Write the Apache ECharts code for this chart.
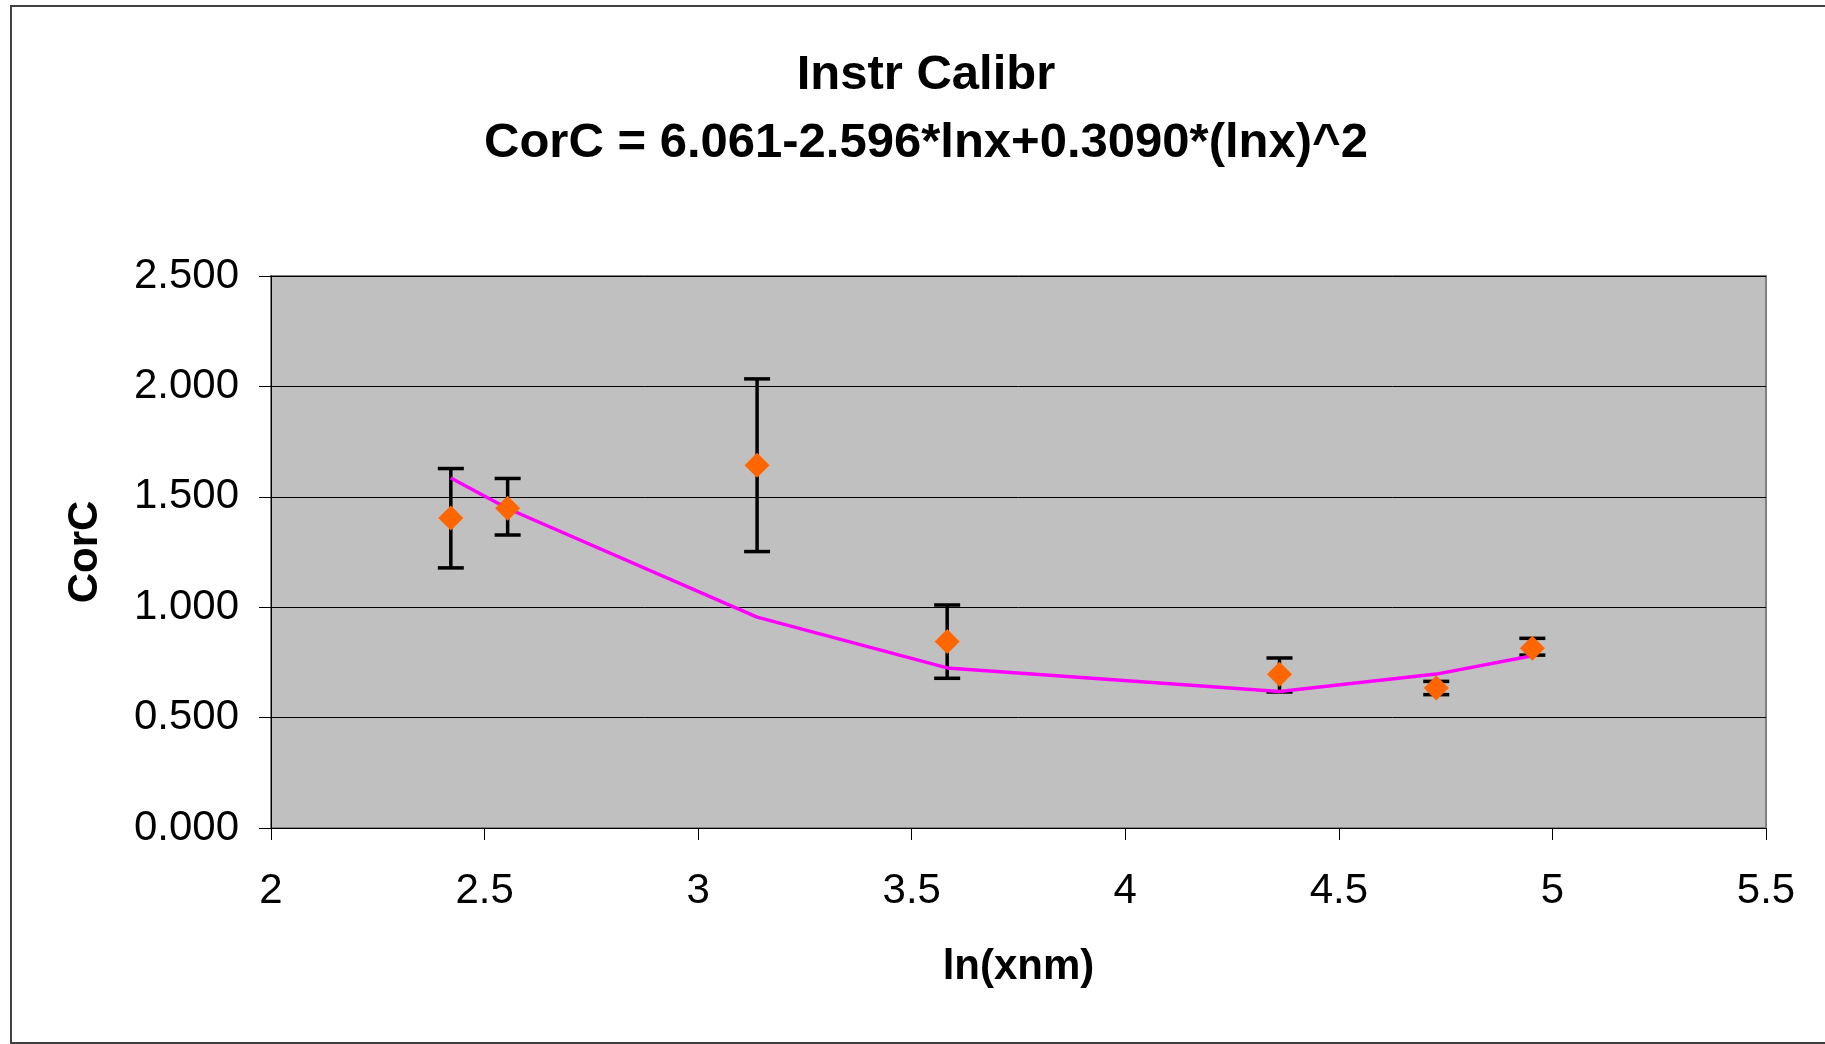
<!DOCTYPE html>
<html>
<head>
<meta charset="utf-8">
<script src="https://cdn.jsdelivr.net/npm/echarts@6/dist/echarts.min.js"></script>
<style>
html,body{margin:0;padding:0;background:#fff;}
#chart{width:1825px;height:1044px;}
</style>
</head>
<body>
<div id="chart"></div>
<script>
// Data
const lnX     = [2.421, 2.554, 3.138, 3.583, 4.361, 4.728, 4.953];
const corC    = [1.404, 1.448, 1.643, 0.845, 0.696, 0.634, 0.814];
const errHigh = [1.628, 1.583, 2.034, 1.010, 0.770, 0.664, 0.859];
const errLow  = [1.178, 1.327, 1.252, 0.678, 0.616, 0.604, 0.783];
const fitY    = [1.585, 1.447, 0.955, 0.725, 0.618, 0.697, 0.780];
const titleLines = ['Instr Calibr', 'CorC = 6.061-2.596*lnx+0.3090*(lnx)^2'];
const xTitle = 'ln(xnm)';
const yTitle = 'CorC';

const FONT = 'Liberation Sans, Arial, sans-serif';
const chart = echarts.init(document.getElementById('chart'));

const pts = lnX.map((x, i) => [x, corC[i]]);
const errs = lnX.map((x, i) => [x, errHigh[i], errLow[i]]);
const fit = lnX.map((x, i) => [x, fitY[i]]);

chart.setOption({
  backgroundColor: '#ffffff',
  animation: false,
  graphic: [
    { type: 'rect', shape: { x: 11, y: 6, width: 1830, height: 1037 },
      style: { fill: 'none', stroke: '#404040', lineWidth: 2 }, silent: true },
    { type: 'text', x: 926, y: 51, style: { text: titleLines[0], textAlign: 'center', textVerticalAlign: 'top',
      font: 'bold 49px ' + FONT, fill: '#000' } },
    { type: 'text', x: 926, y: 119, style: { text: titleLines[1], textAlign: 'center', textVerticalAlign: 'top',
      font: 'bold 49px ' + FONT, fill: '#000' } }
  ],
  grid: {
    left: 271, top: 276, width: 1495, height: 552,
    show: true, backgroundColor: '#C0C0C0', borderColor: '#808080', borderWidth: 2
  },
  xAxis: {
    type: 'value', min: 2, max: 5.5, interval: 0.5,
    name: xTitle, nameLocation: 'middle', nameGap: 118,
    nameTextStyle: { fontFamily: FONT, fontSize: 42, fontWeight: 'bold', color: '#000' },
    axisLine: { lineStyle: { color: '#000', width: 1 } },
    axisTick: { show: true, length: 12, lineStyle: { color: '#000' } },
    axisLabel: { fontFamily: FONT, fontSize: 42, color: '#000', margin: 42 },
    splitLine: { show: false }
  },
  yAxis: {
    type: 'value', min: 0, max: 2.5, interval: 0.5,
    name: yTitle, nameLocation: 'middle', nameGap: 165,
    nameTextStyle: { fontFamily: FONT, fontSize: 42, fontWeight: 'bold', color: '#000' },
    axisLine: { show: true, lineStyle: { color: '#000', width: 1 } },
    axisTick: { show: true, length: 12, lineStyle: { color: '#000' } },
    axisLabel: { fontFamily: FONT, fontSize: 42, color: '#000', margin: 32,
      formatter: v => v.toFixed(3) },
    splitLine: { show: true, lineStyle: { color: '#000', width: 1 } }
  },
  series: [
    {
      type: 'custom', z: 2,
      data: errs,
      renderItem: function (params, api) {
        const x = api.value(0);
        const top = api.coord([x, api.value(1)]);
        const bot = api.coord([x, api.value(2)]);
        const hw = 13;
        const st = { stroke: '#000', lineWidth: 3.5 };
        return { type: 'group', children: [
          { type: 'line', shape: { x1: top[0], y1: top[1], x2: bot[0], y2: bot[1] }, style: st },
          { type: 'line', shape: { x1: top[0] - hw, y1: top[1], x2: top[0] + hw, y2: top[1] }, style: st },
          { type: 'line', shape: { x1: bot[0] - hw, y1: bot[1], x2: bot[0] + hw, y2: bot[1] }, style: st }
        ]};
      }
    },
    {
      type: 'line', z: 3, data: fit, showSymbol: false, symbol: 'none',
      lineStyle: { color: '#FF00FF', width: 3.5 }
    },
    {
      type: 'scatter', z: 4, data: pts, symbol: 'diamond', symbolSize: [25, 25],
      itemStyle: { color: '#FF6600', opacity: 1 }
    }
  ]
});
</script>
</body>
</html>
